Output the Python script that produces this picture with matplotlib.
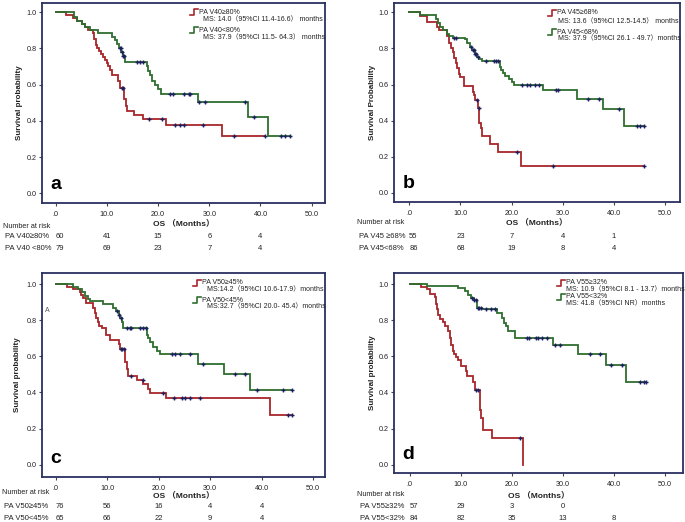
import numpy as np
import matplotlib
matplotlib.use("Agg")
import matplotlib.pyplot as plt
import matplotlib.transforms as mtransforms
from matplotlib.lines import Line2D

plt.rcParams['font.family'] = ['Liberation Sans', 'Noto Sans CJK SC', 'DejaVu Sans']

W, H = 685, 522
RED = '#a8262b'
GREEN = '#2e6e2e'
CENS = '#1c2060'
FRAME = '#2a3060'

# ---------------- data ----------------
xticks = [0, 10, 20, 30, 40, 50]
xticklabels = ['.0', '10.0', '20.0', '30.0', '40.0', '50.0']
yticks = [0.0, 0.2, 0.4, 0.6, 0.8, 1.0]
yticklabels = ['0.0', '0.2', '0.4', '0.6', '0.8', '1.0']
risk_times = [0, 10, 20, 30, 40]

# panel a
a_red_t = [0, 2.1, 3.3, 4.2, 5.1, 5.8, 6.4, 7.2, 7.5, 7.8, 8.1, 8.5, 8.8, 9.2, 9.6, 10.0,
           10.3, 10.6, 11.0, 12.2, 12.6, 13.4, 13.7, 14.0, 15.2, 17.0, 21.5, 32.4]
a_red_s = [1, 0.983, 0.967, 0.95, 0.933, 0.917, 0.9, 0.883, 0.85, 0.817, 0.8, 0.783, 0.767,
           0.75, 0.733, 0.717, 0.70, 0.683, 0.65, 0.617, 0.583, 0.52, 0.48, 0.455, 0.43,
           0.41, 0.375, 0.315]
a_red_c = [12.9, 13.1, 18.2, 20.7, 23.3, 24.2, 25.1, 28.7, 34.9, 40.8]
a_grn_t = [0, 3.5, 4.2, 5.1, 5.8, 6.6, 8.2, 11.0, 11.5, 12.0, 12.4, 12.8, 13.1, 13.5, 17.8,
           18.1, 18.4, 18.9, 19.4, 20.0, 20.6, 27.7, 37.6, 41.5]
a_grn_s = [1, 0.975, 0.95, 0.935, 0.92, 0.9, 0.883, 0.865, 0.845, 0.825, 0.80, 0.78, 0.76,
           0.725, 0.70, 0.675, 0.65, 0.62, 0.60, 0.575, 0.55, 0.505, 0.42, 0.315]
a_grn_c = [12.5, 12.7, 12.9, 13.2, 13.3, 15.8, 16.5, 17.1, 22.3, 23.0, 25.0, 26.0, 26.3,
           28.0, 29.2, 37.0, 38.7, 44.1, 44.8, 45.8]

# panel b
b_red_t = [0, 2.1, 3.4, 5.5, 5.8, 7.4, 7.8, 8.1, 8.5, 8.8, 9.1, 9.4, 9.7, 10.0, 10.7, 12.4,
           12.7, 12.9, 13.5, 13.7, 14.0, 14.3, 15.8, 17.3, 21.8]
b_red_s = [1, 0.98, 0.945, 0.92, 0.9, 0.87, 0.83, 0.80, 0.78, 0.745, 0.72, 0.69, 0.66, 0.64,
           0.59, 0.56, 0.545, 0.515, 0.47, 0.39, 0.36, 0.315, 0.27, 0.225, 0.15]
b_red_c = [13.2, 13.6, 21.0, 28.0, 45.8]
b_grn_t = [0, 2.1, 5.2, 5.6, 6.0, 6.6, 7.3, 7.8, 8.5, 10.9, 11.2, 11.8, 12.3, 12.8, 13.2,
           13.7, 14.3, 17.7, 18.0, 18.4, 18.7, 19.4, 20.0, 20.5, 26.2, 32.7, 37.9, 41.9]
b_grn_s = [1, 0.985, 0.965, 0.94, 0.92, 0.90, 0.88, 0.87, 0.86, 0.85, 0.83, 0.81, 0.79, 0.77,
           0.755, 0.74, 0.73, 0.70, 0.68, 0.665, 0.645, 0.63, 0.615, 0.60, 0.57, 0.52,
           0.465, 0.37]
b_grn_c = [8.7, 9.2, 12.0, 12.5, 12.6, 12.9, 13.0, 13.4, 15.0, 16.6, 16.9, 17.4, 22.0, 23.0,
           23.6, 24.6, 25.4, 28.7, 29.1, 35.0, 37.0, 40.9, 44.4, 45.0, 45.8]

# panel c
c_red_t = [0, 2.1, 3.4, 4.7, 5.0, 5.3, 5.8, 7.3, 7.6, 7.9, 8.2, 8.5, 8.9, 9.8, 10.5, 12.2,
           12.5, 13.5, 13.8, 14.1, 15.7, 17.0, 18.0, 18.4, 21.4, 41.6]
c_red_s = [1, 0.985, 0.97, 0.955, 0.94, 0.92, 0.895, 0.87, 0.84, 0.81, 0.79, 0.77, 0.755,
           0.72, 0.69, 0.67, 0.64, 0.57, 0.53, 0.49, 0.47, 0.445, 0.42, 0.395, 0.37, 0.275]
c_red_c = [12.6, 12.9, 13.2, 14.7, 16.9, 20.8, 23.0, 24.6, 25.1, 26.1, 28.0, 45.2, 45.8]
c_grn_t = [0, 3.4, 4.4, 5.1, 5.7, 6.2, 6.7, 9.2, 11.2, 11.7, 12.2, 12.5, 12.8, 13.1, 17.7,
           18.0, 18.3, 18.9, 19.6, 20.2, 27.7, 32.7, 37.7]
c_grn_s = [1, 0.985, 0.97, 0.955, 0.935, 0.915, 0.905, 0.89, 0.87, 0.85, 0.83, 0.81, 0.79,
           0.755, 0.72, 0.70, 0.68, 0.65, 0.63, 0.61, 0.56, 0.50, 0.415]
c_grn_c = [12.0, 12.3, 12.6, 13.8, 14.4, 14.7, 16.4, 17.0, 17.5, 22.5, 23.1, 24.1, 26.0,
           28.7, 34.8, 36.7, 39.0, 44.2, 45.8]

# panel d
d_red_t = [0, 2.2, 3.3, 3.9, 4.9, 5.1, 5.3, 5.6, 5.9, 6.5, 6.9, 7.5, 7.8, 8.1, 8.4, 8.7,
           9.0, 9.5, 10.1, 11.0, 11.2, 12.4, 12.7, 13.7, 14.0, 14.4, 16.1, 22.1]
d_red_s = [1, 0.985, 0.97, 0.945, 0.93, 0.89, 0.86, 0.83, 0.805, 0.79, 0.77, 0.74, 0.70,
           0.665, 0.63, 0.61, 0.595, 0.58, 0.545, 0.52, 0.49, 0.455, 0.415, 0.305, 0.26,
           0.19, 0.145, 0.0]
d_red_c = [12.9, 13.3, 21.6]
d_grn_t = [0, 3.3, 9.5, 10.8, 11.5, 12.0, 12.5, 13.1, 14.1, 17.0, 18.0, 18.4, 18.8, 19.3,
           20.6, 28.1, 33.0, 38.4, 42.4]
d_grn_s = [1, 0.99, 0.98, 0.96, 0.94, 0.925, 0.91, 0.87, 0.86, 0.84, 0.81, 0.785, 0.765,
           0.74, 0.70, 0.665, 0.615, 0.55, 0.46]
d_grn_c = [12.2, 12.6, 12.9, 13.3, 13.6, 13.9, 15.0, 16.0, 16.6, 22.9, 23.4, 24.7, 25.2,
           25.8, 26.8, 28.4, 29.4, 35.3, 37.3, 39.5, 41.5, 45.1, 45.8, 46.3]

a_groups = ['PA V40≥80%', 'PA V40<80%']
b_groups = ['PA V45≥68%', 'PA V45<68%']
c_groups = ['PA V50≥45%', 'PA V50<45%']
d_groups = ['PA V55≥32%', 'PA V55<32%']

a_ms = ['MS: 14.0（95%CI 11.4-16.6） months', 'MS: 37.9（95%CI 11.5- 64.3） months']
b_ms = ['MS: 13.6（95%CI 12.5-14.5） months', 'MS: 37.9（95%CI 26.1 - 49.7）months']
c_ms = ['MS:14.2（95%CI 10.6-17.9）months', 'MS:32.7（95%CI 20.0- 45.4）months']
d_ms = ['MS: 10.9（95%CI 8.1 - 13.7）months', 'MS: 41.8（95%CI NR）months']

a_risk_rows = ['PA V40≥80%', 'PA V40 <80%']
b_risk_rows = ['PA V45 ≥68%', 'PA V45<68%']
c_risk_rows = ['PA V50≥45%', 'PA V50<45%']
d_risk_rows = ['PA V55≥32%', 'PA V55<32%']
a_risk = [[60, 41, 15, 6, 4], [79, 69, 23, 7, 4]]
b_risk = [[55, 23, 7, 4, 1], [86, 68, 19, 8, 4]]
c_risk = [[76, 56, 16, 4, 4], [65, 66, 22, 9, 4]]
d_risk = [[57, 29, 3, 0], [84, 82, 35, 13, 8]]

# ---------------- layout (pixels) ----------------
panels = [
    dict(letter='a', rect=(42, 3, 325, 203), xlim=(-2.68, 52.6), ylim=(-0.0535, 1.05),
         ylabel='Survival probability', ylab_x=20,
         red=(a_red_t, a_red_s, a_red_c), grn=(a_grn_t, a_grn_s, a_grn_c),
         groups=a_groups, ms=a_ms, rows=a_risk_rows, risk=a_risk,
         leg=(199, 203, [12, 19.5, 30, 37.5]), os_y=223, nar=(3, 226), rows_xy=(5, [236, 248])),
    dict(letter='b', rect=(394, 3, 680, 202), xlim=(-2.99, 52.9), ylim=(-0.05, 1.0516),
         ylabel='Survival Probability', ylab_x=373,
         red=(b_red_t, b_red_s, b_red_c), grn=(b_grn_t, b_grn_s, b_grn_c),
         groups=b_groups, ms=b_ms, rows=b_risk_rows, risk=b_risk,
         leg=(557, 558, [13, 21.5, 32, 39]), os_y=222, nar=(357, 223), rows_xy=(359, [236, 248])),
    dict(letter='c', rect=(42, 273, 325, 477), xlim=(-2.66, 52.3), ylim=(-0.068, 1.061),
         ylabel='Survival probability', ylab_x=18,
         red=(c_red_t, c_red_s, c_red_c), grn=(c_grn_t, c_grn_s, c_grn_c),
         groups=c_groups, ms=c_ms, rows=c_risk_rows, risk=c_risk,
         leg=(202, 207, [283, 290, 300, 307]), os_y=495, nar=(2, 492), rows_xy=(4, [506, 518])),
    dict(letter='d', rect=(394, 273, 683, 473), xlim=(-3.08, 53.5), ylim=(-0.046, 1.061),
         ylabel='Survival probability', ylab_x=373,
         red=(d_red_t, d_red_s, d_red_c), grn=(d_grn_t, d_grn_s, d_grn_c),
         groups=d_groups, ms=d_ms, rows=d_risk_rows, risk=d_risk,
         leg=(566, 566, [283, 289.5, 297, 304]), os_y=495, nar=(357, 495), rows_xy=(360, [506, 518])),
]


def fx(x):
    return x / W


def fy(y):
    return 1 - y / H


def km_plot(ax, t, s, cens, color):
    t = np.asarray(t, float)
    s = np.asarray(s, float)
    cens = np.asarray(cens, float)
    end = max(t[-1], cens.max()) if s[-1] > 0 else t[-1]
    tt = np.append(t, end)
    ss = np.append(s, s[-1])
    ax.plot(tt, ss, drawstyle='steps-post', color=color, lw=1.3, solid_joinstyle='miter')
    idx = np.searchsorted(t, cens, side='right') - 1
    ax.plot(cens, s[idx], ls='none', marker='+', ms=3.4, mew=1.0, color=CENS)


fig = plt.figure(figsize=(W / 100, H / 100), dpi=100)

for p in panels:
    l, t, r, b = p['rect']
    ax = fig.add_axes([fx(l), fy(b), fx(r) - fx(l), fy(t) - fy(b)])
    ax.set_xlim(*p['xlim'])
    ax.set_ylim(*p['ylim'])
    for sp in ax.spines.values():
        sp.set_color(FRAME)
        sp.set_linewidth(1.3)
    ax.set_xticks(xticks)
    ax.set_xticklabels(xticklabels)
    ax.set_yticks(yticks)
    ax.set_yticklabels(yticklabels)
    ax.tick_params(direction='out', length=2.5, width=0.8, color='#444444',
                   labelsize=5.2, labelcolor='#222222', pad=1.5)
    ax.tick_params(axis='x', pad=3)

    km_plot(ax, *p['red'], RED)
    km_plot(ax, *p['grn'], GREEN)

    ax.text(0.03, 0.05, p['letter'], transform=ax.transAxes, fontsize=14,
            fontweight='bold', ha='left', va='bottom', color='black')

    fig.text(fx(p['ylab_x']), (fy(t) + fy(b)) / 2, p['ylabel'], rotation=90,
             ha='center', va='center', fontsize=5.8, fontweight='bold', color='#222222')

    # legend
    gx, mx, ys = p['leg']
    for k, col in enumerate([RED, GREEN]):
        y0 = fy(ys[2 * k])
        fig.add_artist(Line2D([fx(gx - 9), fx(gx - 5), fx(gx - 5), fx(gx - 1)],
                              [y0 - 0.006, y0 - 0.006, y0 + 0.006, y0 + 0.006],
                              color=col, lw=1.2))
        fig.text(fx(gx), y0, p['groups'][k], fontsize=5.0, va='center', ha='left',
                 color='#222222')
        fig.text(fx(mx), fy(ys[2 * k + 1]), p['ms'][k], fontsize=5.0, va='center',
                 ha='left', color='#222222')

    # x label and number at risk
    ax.text(0.5, fy(p['os_y']), 'OS （Months）', ha='center', va='center',
            fontsize=6.0, fontweight='bold', color='#222222',
            transform=mtransforms.blended_transform_factory(ax.transAxes, fig.transFigure))
    fig.text(fx(p['nar'][0]), fy(p['nar'][1]), 'Number at risk', fontsize=5.2,
             va='center', ha='left', color='#222222')
    trans = mtransforms.blended_transform_factory(ax.transData, fig.transFigure)
    rx, rys = p['rows_xy']
    for k in range(2):
        fig.text(fx(rx), fy(rys[k]), p['rows'][k], fontsize=5.5, va='center',
                 ha='left', color='#222222')
        for tm, n in zip(risk_times, p['risk'][k]):
            ax.text(tm + (0.8 if tm == 0 else 0), fy(rys[k]), str(n), transform=trans,
                    fontsize=5.5, ha='center', va='center', color='#222222')

# stray mark in panel c
fig.text(fx(47), fy(310), 'A', fontsize=5, color='#555555', ha='center', va='center')

fig.savefig('out.png', dpi=100)
